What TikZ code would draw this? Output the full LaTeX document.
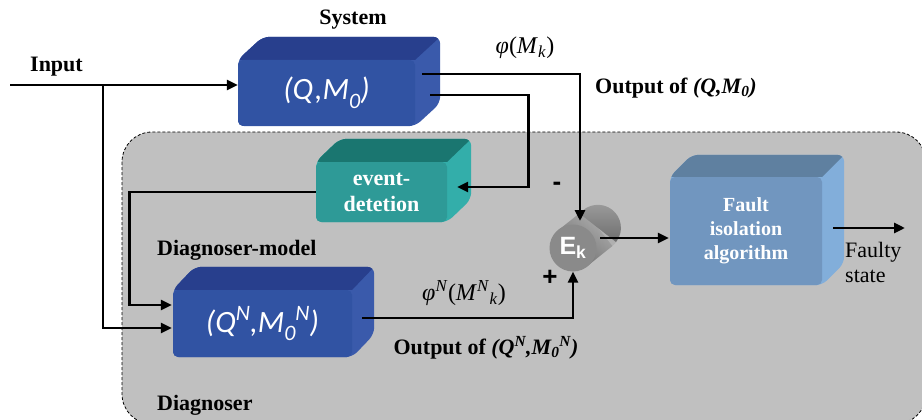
\documentclass[tikz,border=0pt]{standalone}
\usepackage{fontspec}
\setmainfont{Liberation Serif}
\newfontfamily\boxfont{Carlito}
\newfontfamily\ekfont{Liberation Sans}
\usetikzlibrary{calc,arrows.meta}
\pgfdeclarelayer{bg}\pgfdeclarelayer{back}
\pgfsetlayers{bg,back,main}
\definecolor{regionC}{HTML}{C0C0C0}
\definecolor{sysF}{HTML}{3153A3}
\definecolor{sysT}{HTML}{283F8D}
\definecolor{sysS}{HTML}{3A5AAB}
\definecolor{evF}{HTML}{2E9A97}
\definecolor{evT}{HTML}{1A7670}
\definecolor{evS}{HTML}{33AEAA}
\definecolor{faF}{HTML}{7196BF}
\definecolor{faT}{HTML}{5F80A0}
\definecolor{faS}{HTML}{82AEDA}
\definecolor{cylL}{HTML}{B0B0B0}
\definecolor{cylD}{HTML}{6E6E6E}
\definecolor{cylF}{HTML}{8A8A8A}
\newcommand\dnx[1]{\raisebox{-0.28em}{\fontsize{22}{22}\selectfont #1}}
\newcommand\upx[1]{\raisebox{0.38em}{\fontsize{22}{22}\selectfont #1}}
\newcommand\cubeparts[5]{%
  \begin{pgfonlayer}{back}
    \begin{scope}
      \clip[rounded corners=7pt] (#1.north west) -- ++(#2,#3) -- ($(#1.north east)+(#2,#3)$)
        -- ($(#1.south east)+(#2,#3)$) -- (#1.south east) -- (#1.south west) -- cycle;
      \fill[#5] ($(#1.south west)+(0,5)$) rectangle ($(#1.north east)+(#2+5,#3-5)$);
      \fill[#4] (#1.north west) -- ++(#2,#3) -- ($(#1.north east)+(#2,#3)$) -- (#1.north east) -- cycle;
    \end{scope}
  \end{pgfonlayer}}
\tikzset{
  arr/.style={line width=2.8pt, -{Triangle[length=11pt,width=10pt]}},
  front/.style={rounded corners=5pt, inner sep=0pt, text=white},
  lbl/.style={font=\fontsize{22}{26}\selectfont\bfseries, inner sep=0pt},
  qm/.style={font=\boxfont\itshape\fontsize{31}{31}\selectfont},
}
\begin{document}
\begin{tikzpicture}[x=1pt,y=-1pt]
\useasboundingbox (0,0) rectangle (922,420);
\begin{pgfonlayer}{bg}
  \draw[fill=regionC, rounded corners=30pt, line width=0.8pt, dash pattern=on 3pt off 2pt]
    (122,132) rectangle (926,424);
\end{pgfonlayer}

% boxes
\node[front, fill=sysF, minimum width=177pt, minimum height=66pt, qm] (sys) at (326.5,93) {(Q,M\dnx{0})};
\cubeparts{sys}{25}{-23}{sysT}{sysS}
\node[front, fill=evF, minimum width=131pt, minimum height=60pt, align=center,
      font=\bfseries\fontsize{22}{26}\selectfont] (ev) at (381.5,192) {event-\\detetion};
\cubeparts{ev}{24}{-23}{evT}{evS}
\node[front, fill=sysF, minimum width=179pt, minimum height=67pt, qm] (diag) at (262.5,323.5)
  {(Q\upx{N},M\dnx{0}\upx{N})};
\cubeparts{diag}{22}{-23}{sysT}{sysS}
\node[front, fill=faF, minimum width=152pt, minimum height=108pt, align=center,
      font=\bfseries\fontsize{20}{24}\selectfont] (fault) at (746,231) {Fault\\isolation\\algorithm};
\cubeparts{fault}{22}{-22}{faT}{faS}

% cylinder E_k
\fill[cylL] (598,228) circle (23pt);
\shade[top color=cylL, bottom color=cylD, shading angle=-38]
  (558.6,230) -- (583.6,210) -- (612.4,246) -- (587.4,266) -- cycle;
\shade[top color=cylL!70!cylD, bottom color=cylD] (598,228) ++(18,14) arc[start angle=-38, end angle=142, radius=23pt] -- cycle;
\node[circle, minimum size=47pt, inner sep=0pt, fill=cylF, text=white,
      font=\ekfont\bfseries\fontsize{25}{25}\selectfont] (ek) at (573,248) {E\textsubscript{k}};

% coordinates
\coordinate (in) at (10,85);
\coordinate (br) at (103,85);
\coordinate (ektop) at (580,221);
\coordinate (ekout) at (600,238);
\coordinate (fout) at (905,228);

% connectors
\draw[arr] (in) -- (in -| sys.west);
\draw[arr] (br) |- ($(diag.west)+(-1,4.5)$);
\draw[arr] ($(sys.east)+(7,-19)$) -| (ektop);
\draw[arr] ($(sys.east)+(15,2)$) -- ++(98,0) |- ($(ev.east)+(10,-5)$);
\draw[arr] (ev.west) -- ++(-186,0) |- ($(diag.west)+(-1,-18.5)$);
\draw[arr] ($(diag.east)+(10,-5.5)$) -| (ek.south);
\draw[arr] (ekout) -- ($(ekout -| fault.west)+(-1,0)$);
\draw[arr] ($(fault.east)+(11,-3)$) -- (fout);

% labels
\node[lbl] (sysl) at (353,20) {System};
\node[lbl, anchor=west] (inl) at (30,67) {Input};
\node[lbl, anchor=west] (dml) at (157,250) {Diagnoser-model};
\node[lbl, anchor=west] (dgl) at (157,405) {Diagnoser};
\node[lbl] (o1) at (676,88) {Output of \textit{(Q,M\textsubscript{0})}};
\node[lbl] (o2) at (486,348) {Output of \textit{(Q\textsuperscript{N},M\textsubscript{0}\textsuperscript{N})}};
\node[font=\fontsize{24}{24}\selectfont, inner sep=0pt] (phi1) at (525,48)
  {\textit{φ}(\textit{M}\textsubscript{\textit{k}})};
\node[font=\fontsize{24}{24}\selectfont, inner sep=0pt] (phi2) at (464,293)
  {\textit{φ}\textsuperscript{\textit{N}}(\textit{M}\textsuperscript{\textit{N}}\textsubscript{\textit{k}})};
\node[font=\ekfont\bfseries\fontsize{26}{26}\selectfont, inner sep=0pt] (minus) at (557,186) {-};
\node[font=\ekfont\bfseries\fontsize{26}{26}\selectfont, inner sep=0pt] (plus) at (550,278) {+};
\node[font=\fontsize{22}{25}\selectfont, align=left, anchor=west, inner sep=0pt] (fs) at (845,262) {Faulty\\state};
\end{tikzpicture}
\end{document}
